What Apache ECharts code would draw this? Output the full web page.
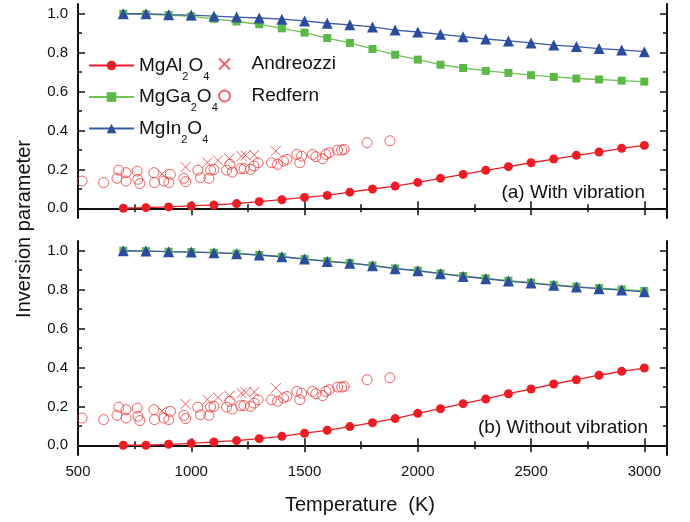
<!DOCTYPE html>
<html>
<head>
<meta charset="utf-8">
<script src="https://cdn.jsdelivr.net/npm/echarts@6/dist/echarts.min.js"></script>
<style>html,body{margin:0;padding:0;background:#fff}#c{width:690px;height:522px}</style>
</head>
<body>
<div id="c"></div>
<script>
// ---- data ----
const tempK = [700,800,900,1000,1100,1200,1300,1400,1500,1600,1700,1800,1900,2000,2100,2200,2300,2400,2500,2600,2700,2800,2900,3000];
// (a) With vibration
const alVib = [0.000,0.003,0.007,0.012,0.017,0.024,0.034,0.044,0.056,0.066,0.083,0.099,0.114,0.133,0.154,0.174,0.195,0.214,0.234,0.253,0.272,0.289,0.308,0.323];
const gaVib = [1.000,0.997,0.993,0.986,0.974,0.960,0.946,0.925,0.903,0.875,0.850,0.819,0.789,0.764,0.738,0.721,0.706,0.696,0.684,0.675,0.667,0.662,0.656,0.651];
const inVib = [1.000,1.000,0.995,0.993,0.988,0.983,0.978,0.972,0.963,0.951,0.943,0.932,0.916,0.906,0.894,0.882,0.870,0.860,0.850,0.839,0.831,0.821,0.814,0.805];
// (b) Without vibration
const alNoVib = [0.000,0.000,0.005,0.010,0.017,0.024,0.034,0.046,0.062,0.077,0.096,0.116,0.137,0.164,0.188,0.214,0.238,0.265,0.289,0.315,0.337,0.360,0.380,0.397];
const gaNoVib = [1.000,0.998,0.995,0.993,0.990,0.985,0.978,0.969,0.958,0.946,0.937,0.924,0.909,0.898,0.884,0.870,0.858,0.846,0.836,0.825,0.816,0.808,0.801,0.793];
const inNoVib = [1.000,0.998,0.995,0.993,0.990,0.985,0.978,0.969,0.957,0.945,0.936,0.923,0.908,0.897,0.882,0.868,0.856,0.844,0.834,0.822,0.813,0.805,0.798,0.789];
// experimental data (same in both panels)
const andreozziT = [871,975,1071,1118,1168,1222,1240,1278,1373];
const andreozziX = [0.176,0.212,0.235,0.246,0.255,0.268,0.272,0.274,0.294];
const redfernT = [518,613,672,680,712,712,761,764,773,835,838,879,901,908,967,975,1029,1041,1078,1085,1100,1156,1171,1181,1218,1233,1262,1277,1295,1354,1381,1407,1422,1466,1479,1487,1535,1550,1580,1594,1609,1646,1664,1675,1776,1877];
const redfernX = [0.140,0.132,0.154,0.196,0.183,0.140,0.191,0.149,0.127,0.183,0.132,0.140,0.132,0.174,0.154,0.137,0.196,0.157,0.154,0.196,0.200,0.196,0.226,0.186,0.204,0.204,0.200,0.217,0.234,0.234,0.226,0.243,0.251,0.277,0.234,0.268,0.277,0.265,0.255,0.277,0.286,0.299,0.299,0.303,0.337,0.347];
// ticks
const xMajor = [500,1000,1500,2000,2500,3000];
const xMinor = [750,1250,1750,2250,2750];
const yMajor = [0,0.2,0.4,0.6,0.8,1.0];
const yMinor = [0.1,0.3,0.5,0.7,0.9];
const panelLabels = ['(a) With vibration','(b) Without vibration'];

// ---- chart ----
const FONT = '"Liberation Sans", Arial, sans-serif';
const INK = '#111';
const RED = '#ee1c24', GREEN = '#5cb946', GREEN_L = '#73c257', BLUE = '#2c4c9e', BLUE_L = '#3c5aa8';

const grids = [
  {left: 78, right: 23, top: 4, height: 214},
  {left: 78, right: 23, top: 241, height: 214}
];

const xAxes = [], yAxes = [];
function addAxes(g, showX) {
  const axLine = {show: true, lineStyle: {color: INK, width: 2}};
  const common = {type: 'value', gridIndex: g, min: 500, max: 3100, splitLine: {show: false}};
  xAxes.push(Object.assign({}, common, {position: 'bottom', axisLine: axLine,
    axisTick: {show: true, inside: true, length: 7, customValues: xMajor, lineStyle: {color: INK, width: 1.5}},
    axisLabel: {show: showX, customValues: xMajor, margin: 9, fontFamily: FONT, fontSize: 15, color: INK,
      formatter: v => String(Math.round(v))}}));
  xAxes.push(Object.assign({}, common, {position: 'bottom', axisLine: {show: false},
    axisTick: {show: true, inside: true, length: 4, customValues: xMinor, lineStyle: {color: INK, width: 1.5}},
    axisLabel: {show: false}}));
  xAxes.push(Object.assign({}, common, {position: 'top', axisLine: axLine,
    axisTick: {show: true, inside: true, length: 7, customValues: xMajor, lineStyle: {color: INK, width: 1.5}},
    axisLabel: {show: false}}));
  xAxes.push(Object.assign({}, common, {position: 'top', axisLine: {show: false},
    axisTick: {show: true, inside: true, length: 4, customValues: xMinor, lineStyle: {color: INK, width: 1.5}},
    axisLabel: {show: false}}));
  const ycommon = {type: 'value', gridIndex: g, min: -0.05, max: 1.05, splitLine: {show: false}};
  yAxes.push(Object.assign({}, ycommon, {position: 'left', axisLine: axLine,
    axisTick: {show: true, inside: true, length: 7, customValues: yMajor, lineStyle: {color: INK, width: 1.5}},
    axisLabel: {show: true, customValues: yMajor, margin: 10, fontFamily: FONT, fontSize: 15, color: INK,
      formatter: v => Number(v).toFixed(1)}}));
  yAxes.push(Object.assign({}, ycommon, {position: 'left', axisLine: {show: false},
    axisTick: {show: true, inside: true, length: 4, customValues: yMinor, lineStyle: {color: INK, width: 1.5}},
    axisLabel: {show: false}}));
  yAxes.push(Object.assign({}, ycommon, {position: 'right', axisLine: axLine,
    axisTick: {show: true, inside: true, length: 7, customValues: yMajor, lineStyle: {color: INK, width: 1.5}},
    axisLabel: {show: false}}));
  yAxes.push(Object.assign({}, ycommon, {position: 'right', axisLine: {show: false},
    axisTick: {show: true, inside: true, length: 4, customValues: yMinor, lineStyle: {color: INK, width: 1.5}},
    axisLabel: {show: false}}));
}
addAxes(0, false);
addAxes(1, true);

function pairs(xs, ys) { return xs.map((x, i) => [x, ys[i]]); }
const crossPath = 'path://M0,0L10,10M10,0L0,10';

const series = [];
function addPanel(g, al, ga, inn) {
  const xi = g * 4, yi = g * 4;
  const base = {type: 'line', xAxisIndex: xi, yAxisIndex: yi, animation: false, z: 3};
  series.push(Object.assign({}, base, {name: 'MgAl2O4', data: pairs(tempK, al), symbol: 'circle', symbolSize: 9,
    lineStyle: {color: RED, width: 1.3}, itemStyle: {color: RED}}));
  series.push(Object.assign({}, base, {name: 'MgGa2O4', data: pairs(tempK, ga), symbol: 'rect', symbolSize: 8,
    lineStyle: {color: GREEN_L, width: 1.3}, itemStyle: {color: GREEN}}));
  series.push(Object.assign({}, base, {name: 'MgIn2O4', data: pairs(tempK, inn), symbol: 'triangle', symbolSize: 11,
    lineStyle: {color: BLUE_L, width: 1.3}, itemStyle: {color: BLUE}}));
  series.push({type: 'scatter', name: 'Andreozzi', xAxisIndex: xi, yAxisIndex: yi, animation: false,
    data: pairs(andreozziT, andreozziX), symbol: crossPath, symbolSize: 10, symbolKeepAspect: true,
    itemStyle: {color: 'rgba(0,0,0,0)', borderColor: '#ef3a3a', borderWidth: 1}});
  series.push({type: 'scatter', name: 'Redfern', xAxisIndex: xi, yAxisIndex: yi, animation: false,
    data: pairs(redfernT, redfernX), symbol: 'circle', symbolSize: 10, symbolKeepAspect: true,
    itemStyle: {color: 'rgba(0,0,0,0)', borderColor: '#ef3a3a', borderWidth: 1}});
}
addPanel(0, alVib, gaVib, inVib);
addPanel(1, alNoVib, gaNoVib, inNoVib);

const legendNames = {
  'MgAl2O4': '{n|MgAl}{s|2}{n|O}{s|4}',
  'MgGa2O4': '{n|MgGa}{s|2}{n|O}{s|4}',
  'MgIn2O4': '{n|MgIn}{s|2}{n|O}{s|4}'
};

const option = {
  backgroundColor: '#fff',
  animation: false,
  grid: grids,
  xAxis: xAxes,
  yAxis: yAxes,
  series: series,
  legend: [
    {data: ['MgAl2O4', 'MgGa2O4', 'MgIn2O4'], orient: 'vertical', left: 88, top: 49, padding: 0,
     itemWidth: 45, itemHeight: 12, itemGap: -1.5, selectedMode: false,
     formatter: n => legendNames[n],
     textStyle: {fontFamily: FONT, fontSize: 19, color: INK, lineHeight: 24,
       rich: {n: {fontFamily: FONT, fontSize: 19, color: INK, lineHeight: 24},
              s: {fontFamily: FONT, fontSize: 11, color: INK, lineHeight: 24, padding: [22, 0, 0, 0]}}}},
    {data: ['Andreozzi', 'Redfern'], orient: 'vertical', left: 218, top: 52, padding: 0,
     itemWidth: 44, itemHeight: 11, itemGap: 8, selectedMode: false,
     textStyle: {fontFamily: FONT, fontSize: 19, color: INK, lineHeight: 24}}
  ],
  graphic: [
    {type: 'text', x: 24, y: 229, rotation: Math.PI / 2,
     style: {text: 'Inversion parameter', font: '20px ' + FONT, fill: INK, textAlign: 'center', textVerticalAlign: 'middle', align: 'center', verticalAlign: 'middle'}},
    {type: 'text', x: 360, y: 505,
     style: {text: 'Temperature  (K)', font: '20px ' + FONT, fill: INK, textAlign: 'center', textVerticalAlign: 'middle', align: 'center', verticalAlign: 'middle'}},
    {type: 'text', x: 645, y: 193,
     style: {text: panelLabels[0], font: '19px ' + FONT, fill: INK, textAlign: 'right', textVerticalAlign: 'middle', align: 'right', verticalAlign: 'middle'}},
    {type: 'text', x: 648, y: 428,
     style: {text: panelLabels[1], font: '19px ' + FONT, fill: INK, textAlign: 'right', textVerticalAlign: 'middle', align: 'right', verticalAlign: 'middle'}}
  ]
};

const chart = echarts.init(document.getElementById('c'), null, {renderer: 'canvas'});
chart.setOption(option);
</script>
</body>
</html>
